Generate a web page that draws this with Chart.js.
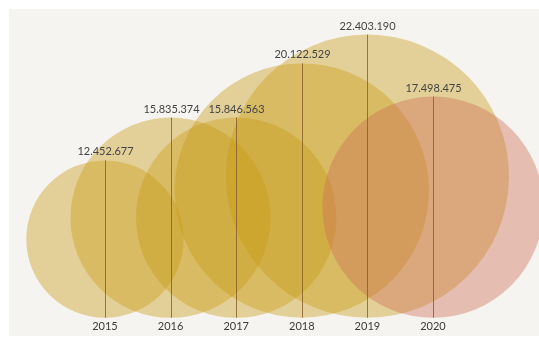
<!DOCTYPE html>
<html lang="en">
<head>
  <meta charset="UTF-8" />
  <title>Visitors per year</title>
  <style>
    body {
      margin: 0;
      background: #fff;
      overflow: hidden;
    }
    canvas {
      display: block;
    }
  </style>
</head>
<body>
  <canvas id="chart" width="539" height="338"></canvas>

  <script src="https://cdn.jsdelivr.net/npm/chart.js"></script>
  <script>
    const years = [2015, 2016, 2017, 2018, 2019, 2020];
    const visitors = [12452677, 15835374, 15846563, 20122529, 22403190, 17498475];
    const colors = [
      'rgba(200, 155, 20, 0.4)',
      'rgba(200, 155, 20, 0.4)',
      'rgba(200, 155, 20, 0.4)',
      'rgba(200, 155, 20, 0.4)',
      'rgba(200, 155, 20, 0.4)',
      'rgba(206, 108, 82, 0.4)'
    ];

    function formatDots(v) {
      return String(v).replace(/\B(?=(\d{3})+(?!\d))/g, '.');
    }

    // off-white panel behind the chart
    const panel = {
      id: 'panel',
      beforeDraw(chart) {
        const c = chart.ctx;
        c.save();
        c.fillStyle = '#f6f4f0';
        c.fillRect(9, 9, chart.width - 9, chart.height - 11);
        c.restore();
      }
    };

    // stem from each circle's top down to the baseline, value on top
    const stems = {
      id: 'stems',
      afterDatasetsDraw(chart) {
        const c = chart.ctx;
        const xs = chart.scales.x;
        const ys = chart.scales.y;
        const base = ys.getPixelForValue(0);
        c.save();
        c.strokeStyle = 'rgba(130, 85, 35, 0.75)';
        c.lineWidth = 1;
        c.fillStyle = '#444';
        c.font = '11px Lato';
        c.textAlign = 'center';
        c.textBaseline = 'bottom';
        years.forEach((yr, i) => {
          const x = Math.round(xs.getPixelForValue(yr)) + 0.5;
          const top = ys.getPixelForValue(visitors[i] * 2);
          c.beginPath();
          c.moveTo(x, top);
          c.lineTo(x, base);
          c.stroke();
          c.fillText(formatDots(visitors[i]), x, top - 3);
        });
        c.restore();
      }
    };

    // radius equals the centre's height, so every circle sits on the baseline
    function radiusFromValue(ctx) {
      const ys = ctx.chart.scales.y;
      if (!ctx.raw || !ys) return 0;
      return ys.getPixelForValue(0) - ys.getPixelForValue(ctx.raw.y);
    }

    new Chart(document.getElementById('chart'), {
      type: 'scatter',
      data: {
        datasets: [{
          data: years.map((yr, i) => ({ x: yr, y: visitors[i] })),
          pointBackgroundColor: colors,
          pointBorderWidth: 0,
          pointRadius: radiusFromValue,
          pointHoverRadius: radiusFromValue,
          clip: false
        }]
      },
      options: {
        responsive: false,
        animation: false,
        events: [],
        layout: { padding: { top: 0, left: 0, right: 0, bottom: 3 } },
        plugins: {
          legend: { display: false },
          tooltip: { enabled: false }
        },
        scales: {
          x: {
            type: 'linear',
            min: 2013.4,
            max: 2021.616,
            afterBuildTicks: (axis) => {
              axis.ticks = years.map(v => ({ value: v }));
            },
            grid: { display: false, drawTicks: false },
            border: { display: false },
            ticks: {
              padding: 2,
              color: '#3a3a3a',
              font: { family: 'Lato', size: 11 },
              callback: (v) => String(v),
              maxRotation: 0
            }
          },
          y: {
            display: false,
            min: 0,
            max: 50280000
          }
        }
      },
      plugins: [panel, stems]
    });
  </script>
</body>
</html>
